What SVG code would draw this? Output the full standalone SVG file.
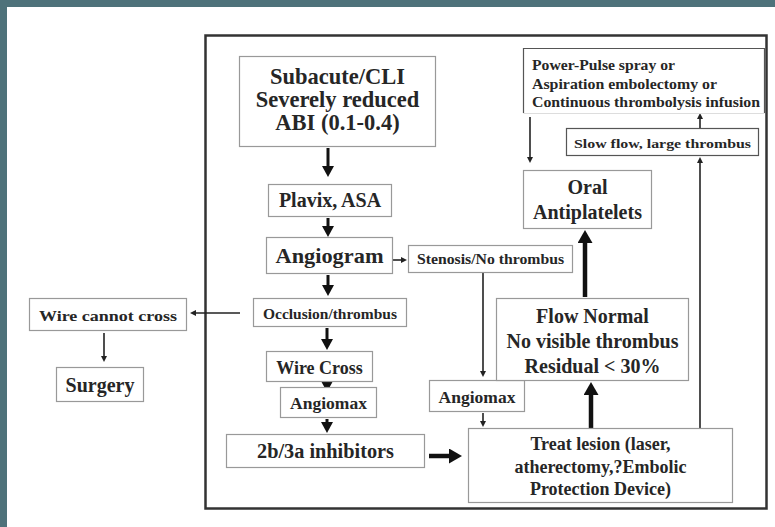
<svg xmlns="http://www.w3.org/2000/svg" width="775" height="527" viewBox="0 0 775 527">
<style>
.bx{fill:#fff;stroke:#999;stroke-width:1.2}
.bd{fill:#fff;stroke:#555;stroke-width:1.2}
.t{font-family:"Liberation Serif","Times New Roman",serif;font-weight:bold;fill:#262626;text-anchor:middle}
.tl{font-family:"Liberation Serif","Times New Roman",serif;font-weight:bold;fill:#262626}
.am{stroke:#111;stroke-width:3;fill:none}
.ak{stroke:#111;stroke-width:4.5;fill:none}
.an{stroke:#222;stroke-width:1.6;fill:none}
</style>
<defs>
<marker id="hm" markerUnits="userSpaceOnUse" markerWidth="12" markerHeight="12" refX="2" refY="6" orient="auto"><path d="M0,0 L11,6 L0,12 z" fill="#111"/></marker>
<marker id="hk" markerUnits="userSpaceOnUse" markerWidth="14" markerHeight="16" refX="2" refY="7.5" orient="auto"><path d="M0,0 L13,7.5 L0,15 z" fill="#111"/></marker>
<marker id="hn" markerUnits="userSpaceOnUse" markerWidth="7" markerHeight="7" refX="1" refY="3" orient="auto"><path d="M0,0 L6,3 L0,6 z" fill="#222"/></marker>
</defs>
<rect x="0" y="0" width="775" height="527" fill="#fff"/>
<rect x="0" y="0" width="775" height="7" fill="#4e727a"/>
<rect x="0" y="0" width="7" height="527" fill="#4e727a"/>
<rect x="205.5" y="35.5" width="561" height="473" fill="none" stroke="#333" stroke-width="2.5"/>

<g id="connectors">
<path class="am" d="M328,148 V168" marker-end="url(#hm)"/>
<path class="am" d="M328,218 V228" marker-end="url(#hm)"/>
<path class="am" d="M328,275 V287" marker-end="url(#hm)"/>
<path class="am" d="M327,328 V341" marker-end="url(#hm)"/>
<path class="am" d="M327,381 V383" marker-end="url(#hm)"/>
<path class="am" d="M327,419 V424" marker-end="url(#hm)"/>
<path class="ak" d="M429,456 H451" marker-end="url(#hk)"/>
<path class="ak" d="M591,428 V393" marker-end="url(#hk)"/>
<path class="ak" d="M585,297 V241" marker-end="url(#hk)"/>
<path class="an" d="M393,260 H402" marker-end="url(#hn)"/>
<path class="an" d="M483,273 V372" stroke-width="2" marker-end="url(#hn)"/>
<path class="an" d="M483,413 V422" marker-end="url(#hn)"/>
<path class="an" d="M700,428 V162" stroke-width="2" marker-end="url(#hn)"/>
<path class="an" d="M700,128 V118" marker-end="url(#hn)"/>
<path class="an" d="M530,117 V158" marker-end="url(#hn)"/>
<path class="an" d="M240,313 H195" marker-end="url(#hn)"/>
<path class="an" d="M104,333 V357" marker-end="url(#hn)"/>
</g>

<g id="subacute">
<rect class="bx" x="239.5" y="56.5" width="196" height="90"/>
<text class="t" x="337.5" y="84" font-size="22.5">Subacute/CLI</text>
<text class="t" x="337.5" y="107" font-size="22.5">Severely reduced</text>
<text class="t" x="337.5" y="130" font-size="22.5">ABI (0.1-0.4)</text>
</g>
<g id="plavix">
<rect class="bx" x="268.5" y="184.5" width="123" height="32"/>
<text class="t" x="330" y="207" font-size="20">Plavix, ASA</text>
</g>
<g id="angiogram">
<rect class="bx" x="266.5" y="237.5" width="126" height="36"/>
<text class="t" x="329.5" y="263" font-size="22" textLength="108" lengthAdjust="spacingAndGlyphs">Angiogram</text>
</g>
<g id="stenosis">
<rect class="bx" x="408.5" y="245.5" width="164" height="27"/>
<text class="t" x="490.5" y="264" font-size="14" textLength="147" lengthAdjust="spacingAndGlyphs">Stenosis/No thrombus</text>
</g>
<g id="occlusion">
<rect class="bx" x="253.5" y="298.5" width="153" height="28"/>
<text class="t" x="330" y="319" font-size="14" textLength="134" lengthAdjust="spacingAndGlyphs">Occlusion/thrombus</text>
</g>
<g id="wirecannot">
<rect class="bx" x="29.5" y="298.5" width="157" height="32"/>
<text class="t" x="108" y="321" font-size="15.5" textLength="138" lengthAdjust="spacingAndGlyphs">Wire cannot cross</text>
</g>
<g id="surgery">
<rect class="bx" x="56.5" y="367.5" width="87" height="34"/>
<text class="t" x="100" y="392" font-size="20">Surgery</text>
</g>
<g id="wirecross">
<rect class="bx" x="266.5" y="351.5" width="106" height="30"/>
<text class="t" x="319.5" y="374" font-size="18">Wire Cross</text>
</g>
<g id="angiomax1">
<rect class="bx" x="280.5" y="387.5" width="96" height="30"/>
<text class="t" x="328.5" y="409" font-size="17.5">Angiomax</text>
</g>
<g id="inhibitors">
<rect class="bx" x="226.5" y="434.5" width="198" height="33"/>
<text class="t" x="325.5" y="458" font-size="20.3">2b/3a inhibitors</text>
</g>
<g id="angiomax2">
<rect class="bx" x="429.5" y="380.5" width="95" height="31"/>
<text class="t" x="477" y="403" font-size="17.5">Angiomax</text>
</g>
<g id="treat">
<rect class="bx" x="468.5" y="428.5" width="264" height="74"/>
<text class="t" x="600.5" y="450" font-size="18">Treat lesion (laser,</text>
<text class="t" x="600.5" y="473" font-size="18">atherectomy,?Embolic</text>
<text class="t" x="600.5" y="495" font-size="18">Protection Device)</text>
</g>
<g id="flow">
<rect class="bx" x="496.5" y="298.5" width="192" height="82"/>
<text class="t" x="592.5" y="323" font-size="20">Flow Normal</text>
<text class="t" x="592.5" y="348" font-size="20">No visible thrombus</text>
<text class="t" x="592.5" y="373" font-size="20">Residual &lt; 30%</text>
</g>
<g id="oral">
<rect class="bx" x="523.5" y="170.5" width="128" height="58"/>
<text class="t" x="587.5" y="194" font-size="20">Oral</text>
<text class="t" x="587.5" y="219" font-size="20">Antiplatelets</text>
</g>
<g id="slowflow">
<rect class="bd" x="566.5" y="128.5" width="192" height="27"/>
<text class="t" x="662.5" y="148" font-size="13.5" textLength="177" lengthAdjust="spacingAndGlyphs">Slow flow, large thrombus</text>
</g>
<g id="powerpulse">
<path d="M523.5,113 V48.5 H764.5 V113" fill="none" stroke="#555" stroke-width="1.2"/>
<path d="M523.5,113.5 H764.5" fill="none" stroke="#ddd" stroke-width="1"/>
<text class="tl" x="532" y="70" font-size="14" textLength="143" lengthAdjust="spacingAndGlyphs">Power-Pulse spray or</text>
<text class="tl" x="532" y="89" font-size="14" textLength="185" lengthAdjust="spacingAndGlyphs">Aspiration embolectomy or</text>
<text class="tl" x="532" y="107" font-size="14" textLength="228" lengthAdjust="spacingAndGlyphs">Continuous thrombolysis infusion</text>
</g>
</svg>
